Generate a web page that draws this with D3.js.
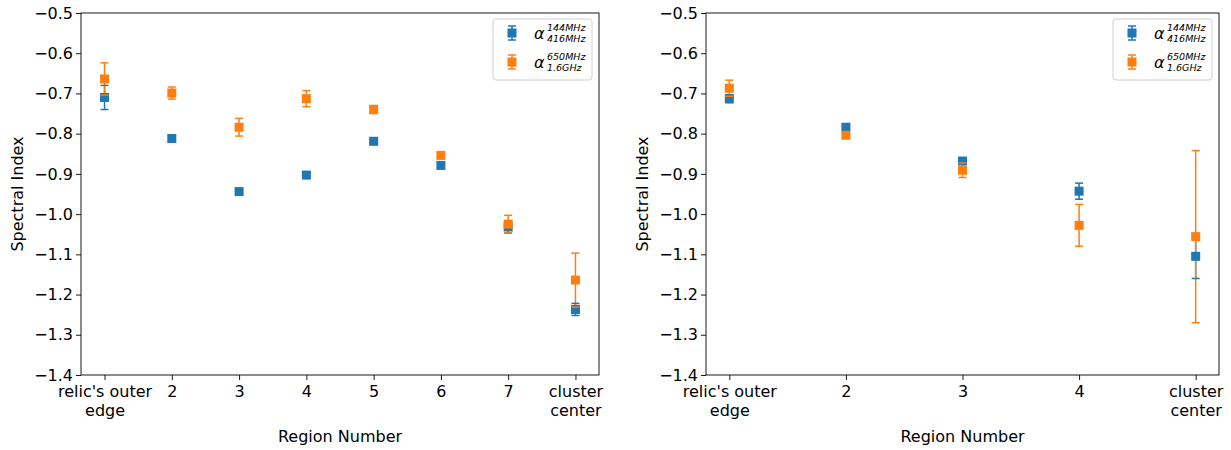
<!DOCTYPE html>
<html>
<head>
<meta charset="utf-8">
<script src="https://cdn.jsdelivr.net/npm/d3@7"></script>
<style>
  body { margin: 0; background: #fff; }
  text { font-family: "DejaVu Sans", sans-serif; }
</style>
</head>
<body>
<svg id="chart" width="1231" height="450"></svg>
<script>
// tick labels for each panel
const leftCategories = ["relic's outer\nedge", "2", "3", "4", "5", "6", "7", "cluster\ncenter"];
const rightCategories = ["relic's outer\nedge", "2", "3", "4", "cluster\ncenter"];

// alpha 144MHz -> 416MHz (blue), alpha 650MHz -> 1.6GHz (orange)
const leftBlue = [-0.710, -0.812, -0.944, -0.903, -0.819, -0.879, -1.032, -1.237];
const leftBlueErr = [0.030, 0.006, 0.006, 0.005, 0.005, 0.005, 0.015, 0.015];
const leftOrange = [-0.664, -0.699, -0.784, -0.713, -0.740, -0.854, -1.025, -1.164];
const leftOrangeErr = [0.040, 0.015, 0.022, 0.020, 0.010, 0.008, 0.022, 0.067];

const rightBlue = [-0.713, -0.784, -0.868, -0.943, -1.105];
const rightBlueErr = [0.010, 0.006, 0.006, 0.020, 0.055];
const rightOrange = [-0.687, -0.804, -0.891, -1.028, -1.056];
const rightOrangeErr = [0.020, 0.006, 0.018, 0.052, 0.214];

const yTicks = [-0.5, -0.6, -0.7, -0.8, -0.9, -1.0, -1.1, -1.2, -1.3, -1.4];

const BLUE = "#1f77b4";
const ORANGE = "#ff7f0e";
const FS = "16px";

const svg = d3.select("#chart");

function drawPanel(left, right, cats, series) {
  const top = 13, bottom = 375;
  const n = cats.length - 1;
  const pad = n * 0.05;

  const x = d3.scaleLinear().domain([-pad, n + pad]).range([left, right]);
  const y = d3.scaleLinear().domain([-0.5, -1.4]).range([top, bottom]);

  const g = svg.append("g");

  // y axis
  const yAxis = d3.axisLeft(y).tickValues(yTicks).tickSize(5).tickPadding(3).tickFormat(d3.format(".1f"));
  g.append("g").attr("transform", `translate(${left},0)`).call(yAxis)
    .call(a => a.select(".domain").remove())
    .call(a => a.selectAll("text").style("font-size", FS).style("font-family", "DejaVu Sans").attr("fill", "#000"))
    .call(a => a.selectAll("line").attr("stroke", "#000").attr("stroke-width", 0.9));

  // x axis, multi-line labels
  const xAxis = d3.axisBottom(x).tickValues(d3.range(cats.length)).tickSize(5).tickFormat("");
  const xg = g.append("g").attr("transform", `translate(0,${bottom})`).call(xAxis)
    .call(a => a.select(".domain").remove())
    .call(a => a.selectAll("line").attr("stroke", "#000").attr("stroke-width", 0.9));
  xg.selectAll(".tick").each(function(d) {
    const lines = cats[d].split("\n");
    const t = d3.select(this).append("text")
      .attr("text-anchor", "middle")
      .attr("fill", "#000")
      .style("font-size", FS);
    lines.forEach((ln, i) => {
      t.append("tspan").attr("x", 0).attr("y", 22 + i * 18.5).text(ln);
    });
  });

  // frame
  g.append("rect")
    .attr("x", left).attr("y", top)
    .attr("width", right - left).attr("height", bottom - top)
    .attr("fill", "none").attr("stroke", "#000").attr("stroke-width", 0.9);

  // axis labels
  g.append("text")
    .attr("x", (left + right) / 2).attr("y", 442)
    .attr("text-anchor", "middle").style("font-size", FS)
    .text("Region Number");
  g.append("text")
    .attr("transform", `translate(${left - 58},${(top + bottom) / 2}) rotate(-90)`)
    .attr("text-anchor", "middle").style("font-size", FS)
    .text("Spectral Index");

  // error bar stems first for every series
  series.forEach(s => {
    g.append("g").selectAll("line").data(s.values).enter().append("line")
      .attr("x1", (d, i) => x(i)).attr("x2", (d, i) => x(i))
      .attr("y1", (d, i) => y(d + s.err[i])).attr("y2", (d, i) => y(d - s.err[i]))
      .attr("stroke", s.color).attr("stroke-width", 1.5);
  });

  // caps and markers
  series.forEach(s => {
    const sg = g.append("g");
    [1, -1].forEach(sign => {
      sg.append("g").selectAll("line").data(s.values).enter().append("line")
        .attr("x1", (d, i) => x(i) - 4).attr("x2", (d, i) => x(i) + 4)
        .attr("y1", (d, i) => y(d + sign * s.err[i])).attr("y2", (d, i) => y(d + sign * s.err[i]))
        .attr("stroke", s.color).attr("stroke-width", 1.5);
    });
    sg.append("g").selectAll("rect").data(s.values).enter().append("rect")
      .attr("x", (d, i) => x(i) - 4.5).attr("y", d => y(d) - 4.5)
      .attr("width", 9).attr("height", 9)
      .attr("fill", s.color);
  });

  // legend
  const lx = right - 106, ly = 19;
  const lg = g.append("g").attr("transform", `translate(${lx},${ly})`);
  lg.append("rect").attr("x", 0).attr("y", 0).attr("width", 99).attr("height", 61)
    .attr("rx", 3).attr("fill", "#fff").attr("fill-opacity", 0.8)
    .attr("stroke", "#d0d0d0").attr("stroke-width", 1);
  const entries = [
    { color: BLUE, sup: "144MHz", sub: "416MHz" },
    { color: ORANGE, sup: "650MHz", sub: "1.6GHz" }
  ];
  entries.forEach((e, i) => {
    const cy = 14 + i * 29;
    const mx = 19;
    lg.append("line").attr("x1", mx).attr("x2", mx).attr("y1", cy - 7).attr("y2", cy + 7)
      .attr("stroke", e.color).attr("stroke-width", 1.5);
    [-7, 7].forEach(o => {
      lg.append("line").attr("x1", mx - 4).attr("x2", mx + 4).attr("y1", cy + o).attr("y2", cy + o)
        .attr("stroke", e.color).attr("stroke-width", 1.5);
    });
    lg.append("rect").attr("x", mx - 4.5).attr("y", cy - 4.5).attr("width", 9).attr("height", 9)
      .attr("fill", e.color);
    lg.append("text").attr("x", 41).attr("y", cy + 6)
      .style("font-size", "16px").style("font-style", "italic").attr("fill", "#000").text("α");
    lg.append("text").attr("x", 54).attr("y", cy - 2.5)
      .style("font-size", "9.5px").style("font-style", "italic").attr("fill", "#000").text(e.sup);
    lg.append("text").attr("x", 54).attr("y", cy + 9)
      .style("font-size", "9.5px").style("font-style", "italic").attr("fill", "#000").text(e.sub);
  });
}

drawPanel(81, 599, leftCategories, [
  { values: leftBlue, err: leftBlueErr, color: BLUE },
  { values: leftOrange, err: leftOrangeErr, color: ORANGE }
]);

drawPanel(706, 1219, rightCategories, [
  { values: rightBlue, err: rightBlueErr, color: BLUE },
  { values: rightOrange, err: rightOrangeErr, color: ORANGE }
]);
</script>
</body>
</html>
